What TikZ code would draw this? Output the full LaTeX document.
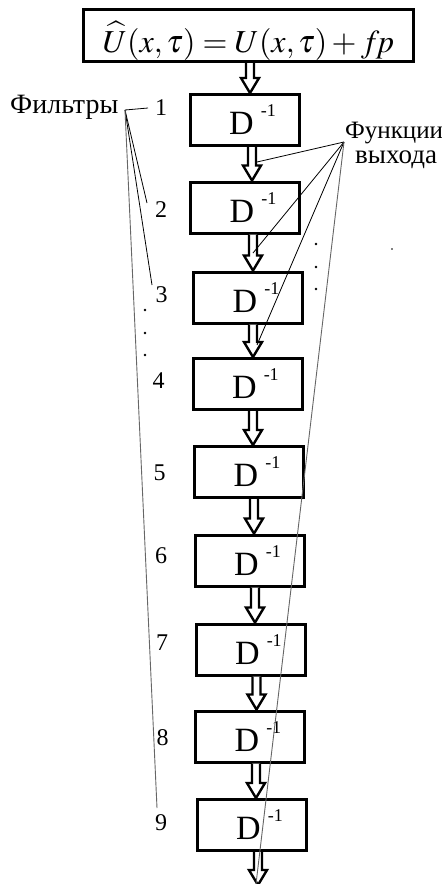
\documentclass[tikz,border=0pt]{standalone}
\usepackage{mathptmx}
\usepackage[no-math]{fontspec}
\setmainfont{Liberation Serif}
\usetikzlibrary{calc}
\newcommand\harr[3]{%
  \draw[harrow] let \p1=($(#2)+(#3,0)$), \p2=(#1), \p3=(#2) in
    (\x1-4pt,\y2) -- (\x1-4pt,\y3+15pt) -- (\x1-9pt,\y3+15pt) -- (\x1,\y3)
    -- (\x1+9pt,\y3+15pt) -- (\x1+4pt,\y3+15pt) -- (\x1+4pt,\y2);}
\begin{document}
\begin{tikzpicture}[x=1pt,y=-1pt,
  blk/.style={draw,line width=3pt,minimum width=109pt,minimum height=51pt,inner sep=0pt,fill=white},
  harrow/.style={draw,line width=2.4pt,fill=white,line join=miter},
  numlbl/.style={inner sep=0pt,anchor=base,font=\fontsize{24}{24}\selectfont},
  wordlbl/.style={inner sep=0pt,anchor=base west,font=\fontsize{28}{28}\selectfont},
  fan/.style={line width=0.8pt,black},
  fanlong/.style={line width=0.9pt,black!60},
  dlabel/.style={anchor=base west,inner sep=0pt,font=\fontsize{34}{34}\selectfont}
]
\useasboundingbox[fill=white] (0,0) rectangle (442,884);

% top formula box
\node[blk,minimum width=330pt,minimum height=52pt] (top) at (248.5,35.5) {};
\node[anchor=base,inner sep=0pt,font=\fontsize{32}{32}\selectfont] (fml) at (248.5,52)
  {$\widehat{U}(x,\tau)=U(x,\tau)+f\!p$};

% D^{-1} blocks
\foreach \i/\x/\y in {1/244.5/120, 2/245/207.5, 3/248/297.5, 4/247.5/384,
  5/249/472, 6/249.5/560.5, 7/250.5/649.5, 8/250/736.5, 9/251.5/825}{
  \node[blk] (b\i) at (\x,\y) {};
  \node[dlabel] (d\i) at ($(b\i.center)+(-15.5,14.5)$)
    {D\hspace{7pt}\raisebox{18pt}{\fontsize{18}{18}\selectfont -1}};
}
\coordinate (bend) at (258,885);

% hollow arrows
\harr{top.south}{b1.north}{5.5}
\harr{b1.south}{b2.north}{7}
\harr{b2.south}{b3.north}{5}
\harr{b3.south}{b4.north}{5.5}
\harr{b4.south}{b5.north}{4}
\harr{b5.south}{b6.north}{4.5}
\harr{b6.south}{b7.north}{4.5}
\harr{b7.south}{b8.north}{6.5}
\harr{b8.south}{b9.north}{4.5}
\harr{b9.south}{bend}{0}

% left labels
\node[wordlbl] (filt) at (10,113) {Фильтры};
\node[numlbl] (n1) at (161,115) {1};
\node[numlbl] (n2) at (161,217) {2};
\node[numlbl] (n3) at (161.5,302) {3};
\node[numlbl] (n4) at (158.5,388) {4};
\node[numlbl] (n5) at (159.5,480) {5};
\node[numlbl] (n6) at (161,563) {6};
\node[numlbl] (n7) at (162,650) {7};
\node[numlbl] (n8) at (162.5,745) {8};
\node[numlbl] (n9) at (161,830) {9};

\coordinate (fo) at (125,110);
\coordinate (f1) at (148,108);
\coordinate (f2) at (147,203);
\coordinate (f3) at (152,285);
\coordinate (f9) at (157,808);
\draw[fan] (fo) -- (f1);
\draw[fan] (fo) -- (f2);
\draw[fan] (fo) -- (f3);
\draw[fanlong] (fo) -- (f9);

% right labels
\node[wordlbl,font=\fontsize{25}{25}\selectfont] (fun1) at (345,138) {Функции};
\node[wordlbl,font=\fontsize{27}{27}\selectfont] (fun2) at (355,163) {выхода};
\coordinate (fc) at (344,142);
\coordinate (g1) at (257,162);
\coordinate (g2) at (253,253);
\coordinate (g3) at (257,345);
\coordinate (g4) at (256,884);
\draw[fan] (fc) -- (g1);
\draw[fan] (fc) -- (g2);
\draw[fan] (fc) -- (g3);
\draw[fanlong] (fc) -- (g4);

% dots
\foreach \p/\yy in {l1/310, l2/333, l3/355}{\fill (145,\yy) circle (1.3pt);}
\foreach \p/\yy in {r1/244, r2/267, r3/289}{\fill (316,\yy) circle (1.3pt);}
\fill (392,249) circle (0.9pt);
\end{tikzpicture}
\end{document}
